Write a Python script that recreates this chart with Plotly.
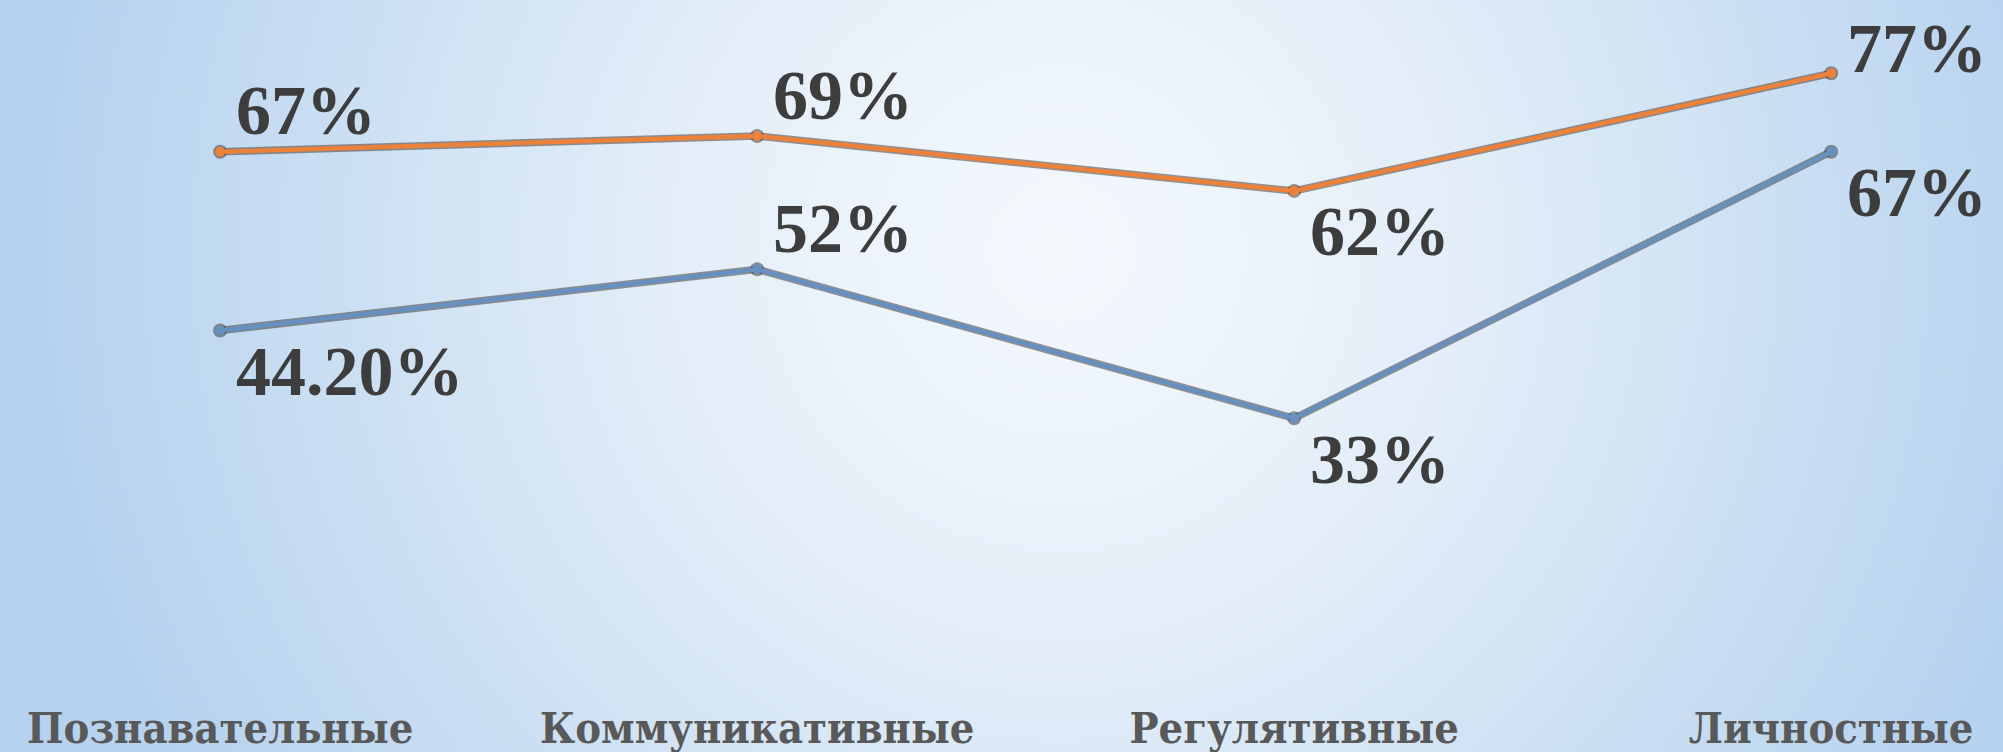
import numpy as np
import plotly.graph_objects as go

# Categories of learning activities and the two measured series (percent)
categories = ["Познавательные", "Коммуникативные", "Регулятивные", "Личностные"]
series_start = [44.2, 52, 33, 67]
series_end = [67, 69, 62, 77]
labels_start = ["44.20%", "52%", "33%", "67%"]
labels_end = ["67%", "69%", "62%", "77%"]

# Which side of the point each value label sits on
side_start = ["below", "above", "below", "below"]
side_end = ["above", "above", "below", "above"]

W, H = 2003, 752
PLOT_BOTTOM = 75            # px from the bottom of the figure to the value axis zero
Y_MAX = 86.35
PX_PER_UNIT = (H - PLOT_BOTTOM) / Y_MAX

BLUE = "#6590bf"
ORANGE = "#ec8139"
OUTLINE = "rgba(70,60,55,0.55)"

fig = go.Figure()

# Soft radial background: light in the middle, pale blue toward the edges
gx = np.linspace(-40, W + 40, 130)
gy = np.linspace(-40, H + 40, 56)
XX, YY = np.meshgrid(gx, gy)
cx, cy = 1060, H - 250
r = np.sqrt((XX - cx) ** 2 + (YY - cy) ** 2) / 1020.0
t = np.clip(r, 0, 1) ** 1.15
fig.add_trace(go.Heatmap(
    x=gx, y=gy, z=t, zmin=0, zmax=1, zsmooth="best", showscale=False,
    colorscale=[[0, "#f4f8fd"], [0.35, "#e2edf8"], [0.7, "#c9def2"], [1, "#b5d2ef"]],
    hoverinfo="skip", xaxis="x", yaxis="y",
))


def add_series(values, color):
    # dark outline underneath, coloured line on top
    fig.add_trace(go.Scatter(
        x=categories, y=values, mode="lines+markers", xaxis="x2", yaxis="y2",
        line=dict(color=OUTLINE, width=7.5),
        marker=dict(size=14, color=OUTLINE), hoverinfo="skip", showlegend=False,
    ))
    fig.add_trace(go.Scatter(
        x=categories, y=values, mode="lines+markers", xaxis="x2", yaxis="y2",
        line=dict(color=color, width=4.5),
        marker=dict(size=10, color=color), showlegend=False,
    ))


add_series(series_start, BLUE)
add_series(series_end, ORANGE)

annotations = []
for vals, labs, sides in ((series_end, labels_end, side_end),
                          (series_start, labels_start, side_start)):
    for cat, v, lab, s in zip(categories, vals, labs, sides):
        if s == "above":
            # keep labels near the top edge inside the figure
            from_top = (Y_MAX - v) * PX_PER_UNIT
            shift = min(41, from_top - 48)
        else:
            shift = -41
        annotations.append(dict(
            x=cat, y=v, xref="x2", yref="y2", text=lab, showarrow=False,
            xanchor="left", yanchor="middle", xshift=15, yshift=shift,
            borderpad=0,
            font=dict(family="Liberation Serif", size=70, color="#3d3d3d",
                      weight="bold"),
        ))

fig.update_layout(
    width=W, height=H,
    margin=dict(l=0, r=0, t=0, b=0, pad=0),
    paper_bgcolor="#c8dcf0",
    plot_bgcolor="rgba(0,0,0,0)",
    showlegend=False,
    annotations=annotations,
    xaxis=dict(domain=[0, 1], range=[0, W], visible=False, fixedrange=True,
               automargin=False),
    yaxis=dict(domain=[0, 1], range=[0, H], visible=False, fixedrange=True,
               automargin=False),
    xaxis2=dict(
        domain=[0, 1], anchor="y2", type="category", range=[-0.41, 3.32],
        showgrid=False, zeroline=False, showline=False, ticks="",
        automargin=False, ticklabelstandoff=22,
        tickfont=dict(family="DejaVu Serif Condensed, DejaVu Serif", size=43,
                      color="#595959", weight="bold"),
    ),
    yaxis2=dict(
        domain=[PLOT_BOTTOM / H, 1], anchor="x2", range=[0, Y_MAX],
        showgrid=False, zeroline=False, showline=False, showticklabels=False,
        automargin=False,
    ),
)

fig.write_html("out.html")
